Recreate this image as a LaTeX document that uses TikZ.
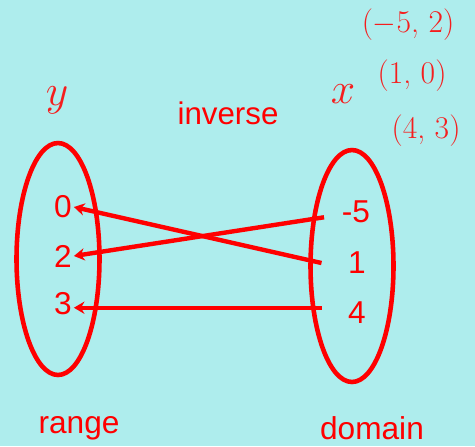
\documentclass[tikz,border=0pt]{standalone}
\usepackage{fontspec}
\setmainfont{Liberation Sans}
\newfontfamily\handfont{Latin Modern Roman}
\definecolor{bgcyan}{RGB}{174,237,237}
\definecolor{mapred}{RGB}{255,0,0}
\definecolor{handred}{RGB}{245,30,30}
\usetikzlibrary{arrows.meta,positioning,shapes.geometric}

\begin{document}
\begin{tikzpicture}[
  x=0.02cm,y=-0.02cm,
  setoval/.style={draw=mapred,line width=2.6pt,ellipse,minimum width=1.66cm,minimum height=4.64cm},
  numlbl/.style={text=mapred,font=\fontsize{18}{20}\selectfont,inner sep=1pt},
  wordlbl/.style={text=mapred,font=\fontsize{18}{21}\selectfont},
  handlbl/.style={text=handred,font=\handfont\fontsize{18}{20}\selectfont},
  maparrow/.style={draw=mapred,line width=2.5pt,-{Stealth[length=6pt,width=7pt]}},
]
  % background
  \fill[bgcyan] (0,0) rectangle (475,446);
  \useasboundingbox (0,0) rectangle (475,446);

  % the two sets
  \node[setoval] (rng) at (58,259) {};
  \node[setoval] (dom) at (352,266) {};

  % range values
  \node[numlbl] (l0) at (63,207) {0};
  \node[numlbl] (l2) at (63,256) {2};
  \node[numlbl] (l3) at (63,304) {3};

  % domain values
  \node[numlbl] (rm5) at (356,212) {-5};
  \node[numlbl] (r1) at (357,263) {1};
  \node[numlbl] (r4) at (357,313) {4};

  % arrow tails
  \coordinate (tm5) at ([xshift=-9pt,yshift=-3pt]rm5.west);
  \coordinate (t1) at ([xshift=-14pt]r1.west);
  \coordinate (t4) at ([xshift=-14pt,yshift=3pt]r4.west);

  \draw[maparrow] (tm5) -- (l2.east);
  \draw[maparrow] (t1) -- (l0.east);
  \draw[maparrow] (t4) -- (l3.east |- t4);

  % labels
  \node[wordlbl,font=\fontsize{17.8}{20}\selectfont] (inv) at (228,113) {inverse};
  \node[wordlbl] (rlbl) at (79,428) {range};
  \node[wordlbl] (dlbl) at (372,428) {domain};

  % handwritten notes
  \node[handlbl,font=\fontsize{30}{32}\selectfont] (ylbl) at (57,100) {$y$};
  \node[handlbl,font=\fontsize{30}{32}\selectfont] (xlbl) at (343,94) {$x$};
  \node[handlbl] (p1) at (408,25) {($-$5, 2)};
  \node[handlbl] (p2) at (412,76) {(1, 0)};
  \node[handlbl] (p3) at (426,131) {(4, 3)};
\end{tikzpicture}
\end{document}
